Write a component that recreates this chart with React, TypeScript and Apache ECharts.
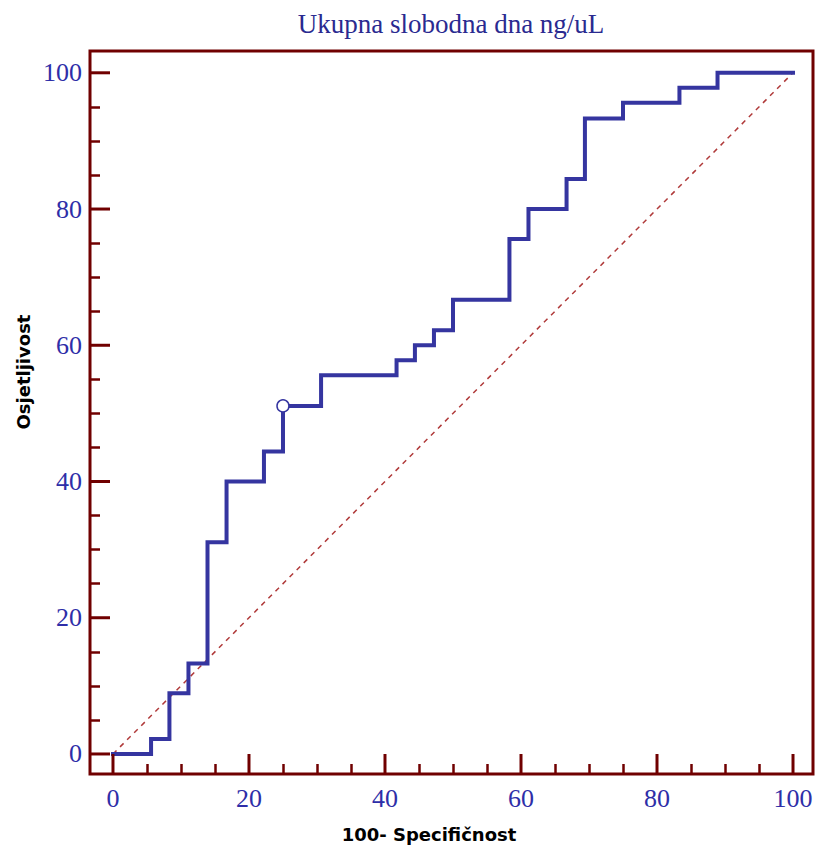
import React, { useEffect, useRef } from "react";
import * as echarts from "echarts";

// 100 - Specificity (x) and Sensitivity (y) at each step of the ROC curve
const fpr = [0, 5.6, 8.3, 11.1, 13.9, 16.7, 22.2, 25, 30.6, 41.7, 44.4, 47.2, 50, 58.3, 61.1, 66.7, 69.4, 75, 83.3, 88.9, 100];
const tpr = [0, 2.2, 8.9, 13.3, 31.1, 40, 44.4, 51.1, 55.6, 57.8, 60, 62.2, 66.7, 75.6, 80, 84.4, 93.3, 95.6, 97.8, 100, 100];
const diagonal = [[0, 0], [100, 100]];
const criterionPoint = [25, 51.1];
const majorTicks = [0, 20, 40, 60, 80, 100];
const minorTicks = [5, 10, 15, 25, 30, 35, 45, 50, 55, 65, 70, 75, 85, 90, 95];
const xRange = [-3.38, 102.94];
const yRange = [-2.94, 103.2];

const titleText = "Ukupna slobodna dna ng/uL";
const xName = "100- Specifičnost";
const yName = "Osjetljivost";

export default function App() {
  const ref = useRef<HTMLDivElement>(null);
  useEffect(() => {
    if (!ref.current) return;
    const chart = echarts.init(ref.current, undefined, { renderer: "svg" });
    const frame = "#700000";
    const blue = "#3535a0";
    const labelColor = "#2e2ea8";
    const labelAxis = (range: number[], isX: boolean) => ({
      type: "value",
      min: range[0],
      max: range[1],
      position: isX ? "bottom" : "left",
      axisLine: { show: false, onZero: false },
      axisTick: { show: false },
      minorTick: { show: false },
      splitLine: { show: false },
      axisLabel: {
        show: true,
        customValues: majorTicks,
        color: labelColor,
        fontFamily: "Liberation Serif",
        fontSize: 26,
        margin: isX ? 24 : 8,
        verticalAlign: "middle",
      },
    });
    const tickAxis = (range: number[], isX: boolean, values: number[], length: number, width: number) => ({
      type: "value",
      min: range[0],
      max: range[1],
      position: isX ? "bottom" : "left",
      axisLine: { show: false, onZero: false },
      axisTick: {
        show: true,
        inside: true,
        length,
        customValues: values,
        lineStyle: { color: frame, width },
      },
      minorTick: { show: false },
      splitLine: { show: false },
      axisLabel: { show: false },
    });
    const majorTickLen = 20;
    chart.setOption({
      animation: false,
      backgroundColor: "#ffffff",
      grid: { left: 90, right: 4, top: 51, bottom: 74, containLabel: false },
      xAxis: [labelAxis(xRange, true), tickAxis(xRange, true, minorTicks, 10, 2.5)],
      yAxis: [labelAxis(yRange, false), tickAxis(yRange, false, minorTicks, 10, 2.5)],
      graphic: [
        {
          type: "rect",
          shape: { x: 90, y: 51, width: 723, height: 723 },
          style: { fill: "none", stroke: frame, lineWidth: 3 },
          z: 1,
        },
        {
          type: "text",
          x: 451,
          y: 24,
          style: {
            text: titleText,
            fill: "#2a2a90",
            font: "27px 'Liberation Serif'",
            textAlign: "center",
            textVerticalAlign: "middle",
          },
        },
        {
          type: "text",
          x: 429,
          y: 834,
          style: {
            text: xName,
            fill: "#000000",
            font: "bold 18px 'DejaVu Sans'",
            textAlign: "center",
            textVerticalAlign: "middle",
          },
        },
        {
          type: "text",
          x: 23,
          y: 372,
          rotation: Math.PI / 2,
          style: {
            text: yName,
            fill: "#000000",
            font: "bold 18px 'DejaVu Sans'",
            textAlign: "center",
            textVerticalAlign: "middle",
          },
        },
      ],
      series: [
        {
          // major ticks of both axes, placed through the axes' own scales
          type: "custom",
          xAxisIndex: 0,
          yAxisIndex: 0,
          data: majorTicks.map((v) => [v, v]),
          encode: { x: 0, y: 1 },
          clip: false,
          silent: true,
          z: 5,
          renderItem: (params: any, api: any) => {
            const v = api.value(0);
            const px = api.coord([v, yRange[0]]);
            const py = api.coord([xRange[0], v]);
            return {
              type: "group",
              children: [
                {
                  type: "rect",
                  shape: { x: px[0] - 1.5, y: px[1] - majorTickLen, width: 3, height: majorTickLen },
                  style: { fill: frame },
                },
                {
                  type: "rect",
                  shape: { x: py[0], y: py[1] - 1.5, width: majorTickLen, height: 3 },
                  style: { fill: frame },
                },
              ],
            };
          },
        },
        {
          type: "line",
          xAxisIndex: 0,
          yAxisIndex: 0,
          data: diagonal,
          symbol: "none",
          clip: false,
          lineStyle: { color: "#b03a3a", width: 1.5, type: [5, 5] },
          z: 2,
        },
        {
          type: "line",
          xAxisIndex: 0,
          yAxisIndex: 0,
          data: fpr.map((x, i) => [x, tpr[i]]),
          step: "end",
          symbol: "none",
          clip: false,
          lineStyle: { color: blue, width: 4, join: "miter", cap: "square" },
          z: 3,
        },
        {
          type: "scatter",
          xAxisIndex: 0,
          yAxisIndex: 0,
          data: [criterionPoint],
          symbol: "circle",
          symbolSize: 12,
          clip: false,
          itemStyle: { color: "#ffffff", borderColor: blue, borderWidth: 1.5, opacity: 1 },
          z: 6,
        },
      ],
    });
    return () => chart.dispose();
  }, []);
  return (
    <div
      ref={ref}
      style={{ position: "fixed", left: 0, top: 0, width: 817, height: 848 }}
    />
  );
}
